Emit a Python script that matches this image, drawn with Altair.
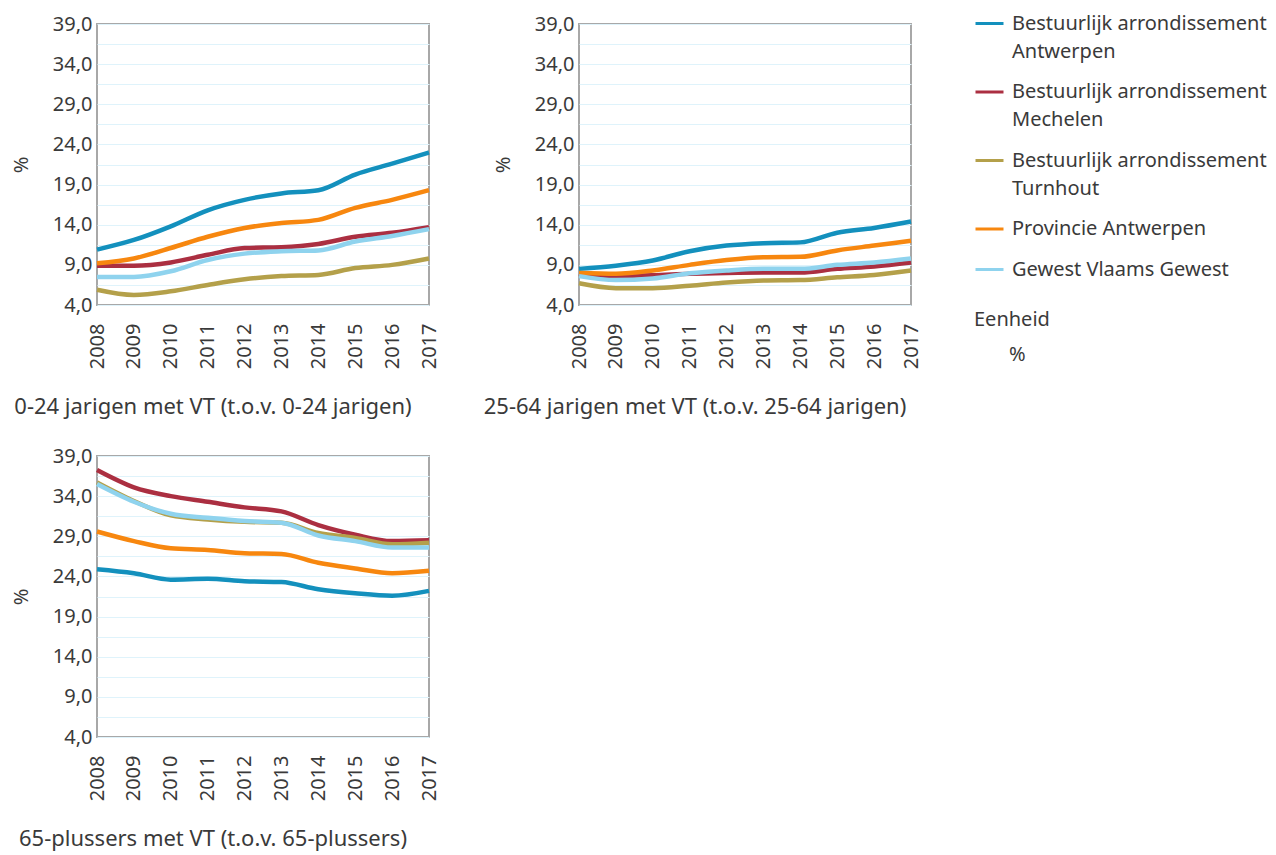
import altair as alt
import pandas as pd

years = list(range(2008, 2018))
series = [
    "Bestuurlijk arrondissement Antwerpen",
    "Bestuurlijk arrondissement Mechelen",
    "Bestuurlijk arrondissement Turnhout",
    "Provincie Antwerpen",
    "Gewest Vlaams Gewest",
]
colors = ["#1390bd", "#ab2f41", "#b4a04a", "#f7870f", "#8fd3ee"]
panel_titles = [
    "0-24 jarigen met VT (t.o.v. 0-24 jarigen)",
    "25-64 jarigen met VT (t.o.v. 25-64 jarigen)",
    "65-plussers met VT (t.o.v. 65-plussers)",
]

# 0-24 jarigen
jong_antwerpen = [10.9, 12.1, 13.8, 15.8, 17.1, 17.9, 18.3, 20.25, 21.6, 23.0]
jong_mechelen = [8.9, 8.9, 9.3, 10.25, 11.1, 11.2, 11.6, 12.5, 13.0, 13.7]
jong_turnhout = [5.9, 5.25, 5.7, 6.5, 7.2, 7.6, 7.75, 8.6, 9.0, 9.8]
jong_provincie = [9.2, 9.8, 11.1, 12.5, 13.6, 14.2, 14.6, 16.1, 17.1, 18.3]
jong_vlaanderen = [7.5, 7.5, 8.2, 9.6, 10.4, 10.7, 10.8, 11.9, 12.6, 13.45]

# 25-64 jarigen
midden_antwerpen = [8.5, 8.9, 9.55, 10.7, 11.4, 11.7, 11.8, 13.0, 13.6, 14.4]
midden_mechelen = [7.9, 7.6, 7.7, 7.9, 8.0, 8.05, 8.05, 8.5, 8.8, 9.3]
midden_turnhout = [6.7, 6.1, 6.1, 6.4, 6.8, 7.05, 7.1, 7.45, 7.75, 8.3]
midden_provincie = [8.0, 7.9, 8.3, 9.0, 9.6, 9.95, 10.0, 10.8, 11.4, 12.0]
midden_vlaanderen = [7.6, 7.1, 7.3, 7.95, 8.3, 8.5, 8.5, 9.0, 9.3, 9.8]

# 65-plussers
oud_antwerpen = [24.9, 24.4, 23.6, 23.7, 23.4, 23.3, 22.4, 21.9, 21.6, 22.2]
oud_mechelen = [37.25, 35.1, 34.0, 33.3, 32.6, 32.1, 30.4, 29.2, 28.4, 28.5]
oud_turnhout = [35.7, 33.4, 31.6, 31.1, 30.8, 30.7, 29.4, 28.8, 28.0, 28.2]
oud_provincie = [29.6, 28.4, 27.5, 27.3, 26.9, 26.8, 25.7, 25.0, 24.4, 24.7]
oud_vlaanderen = [35.5, 33.3, 31.8, 31.3, 30.9, 30.7, 29.1, 28.4, 27.6, 27.6]

y_ticks = [4 + 2.5 * i for i in range(15)]

panel_values = [
    [jong_antwerpen, jong_mechelen, jong_turnhout, jong_provincie, jong_vlaanderen],
    [midden_antwerpen, midden_mechelen, midden_turnhout, midden_provincie, midden_vlaanderen],
    [oud_antwerpen, oud_mechelen, oud_turnhout, oud_provincie, oud_vlaanderen],
]

FONT = "Noto Sans"
TEXT = "#3a3a3a"


def make_df(values):
    rows = []
    for name, vals in zip(series, values):
        for yr, v in zip(years, vals):
            rows.append({"jaar": str(yr), "waarde": v, "reeks": name, "eenheid": "%"})
    return pd.DataFrame(rows)


legend_expr = (
    "indexof(datum.label, 'arrondissement ') >= 0 ? "
    "['Bestuurlijk arrondissement', replace(datum.label, 'Bestuurlijk arrondissement ', '')] : datum.label"
)
ylabel_expr = "(datum.value - 4) % 5 == 0 ? replace(format(datum.value, '.1f'), '.', ',') : ''"


def panel(values, title):
    return (
        alt.Chart(make_df(values))
        .mark_line(interpolate="monotone", strokeWidth=4.5)
        .encode(
            x=alt.X(
                "jaar:O",
                scale=alt.Scale(type="point", padding=0),
                axis=alt.Axis(
                    title=None, labelAngle=270, grid=False, ticks=False,
                    domain=False, labelPadding=18,
                ),
            ),
            y=alt.Y(
                "waarde:Q",
                scale=alt.Scale(domain=[4, 39], nice=False, zero=False),
                axis=alt.Axis(
                    title="%", values=y_ticks, labelExpr=ylabel_expr, ticks=False,
                    domain=False, labelPadding=5, titlePadding=21,
                ),
            ),
            color=alt.Color(
                "reeks:N",
                sort=series,
                scale=alt.Scale(domain=series, range=colors),
                legend=alt.Legend(
                    title=None, labelExpr=legend_expr, labelLimit=400,
                    symbolType="stroke", symbolSize=784, symbolStrokeWidth=3,
                    labelOffset=7, rowPadding=14.5, orient="none",
                    legendX=877, legendY=-16,
                ),
            ),
            opacity=alt.Opacity(
                "eenheid:O",
                scale=alt.Scale(domain=["%"], range=[1, 1]),
                legend=alt.Legend(
                    title="Eenheid", symbolStrokeColor="transparent",
                    symbolFillColor="transparent", symbolStrokeWidth=0,
                    symbolType="stroke", symbolSize=784, labelOffset=7,
                    orient="none", legendX=877, legendY=286, titlePadding=11,
                ),
            ),
            order=alt.Order("jaar:O"),
        )
        .properties(
            width=332,
            height=281,
            title=alt.TitleParams(
                text=title, orient="bottom", anchor="middle", offset=28, dx=-50,
                fontSize=22, font=FONT, fontWeight="normal", color=TEXT,
            ),
        )
    )


p1 = panel(panel_values[0], panel_titles[0])
p2 = panel(panel_values[1], panel_titles[1])
p3 = panel(panel_values[2], panel_titles[2])

chart = (
    alt.vconcat(alt.hconcat(p1, p2, spacing=42), p3, spacing=26)
    .resolve_scale(color="shared", opacity="shared")
    .resolve_legend(color="shared", opacity="shared")
    .properties(padding={"left": 2, "top": 0, "right": 0, "bottom": 0})
    .configure(font=FONT, style={"guide-label": {"lineHeight": 28}})
    .configure_view(stroke="#a8a8a8", strokeWidth=2)
    .configure_axis(
        labelFont=FONT, labelFontSize=20, labelColor=TEXT,
        titleFont=FONT, titleFontSize=20, titleFontWeight="normal", titleColor=TEXT,
        gridColor="#dff3fb", gridWidth=1,
    )
    .configure_legend(
        labelFont=FONT, labelFontSize=20, labelColor=TEXT,
        titleFont=FONT, titleFontSize=20, titleFontWeight="normal", titleColor=TEXT,
    )
)

chart.save("out.html", embed_options={"renderer": "svg", "actions": False})
